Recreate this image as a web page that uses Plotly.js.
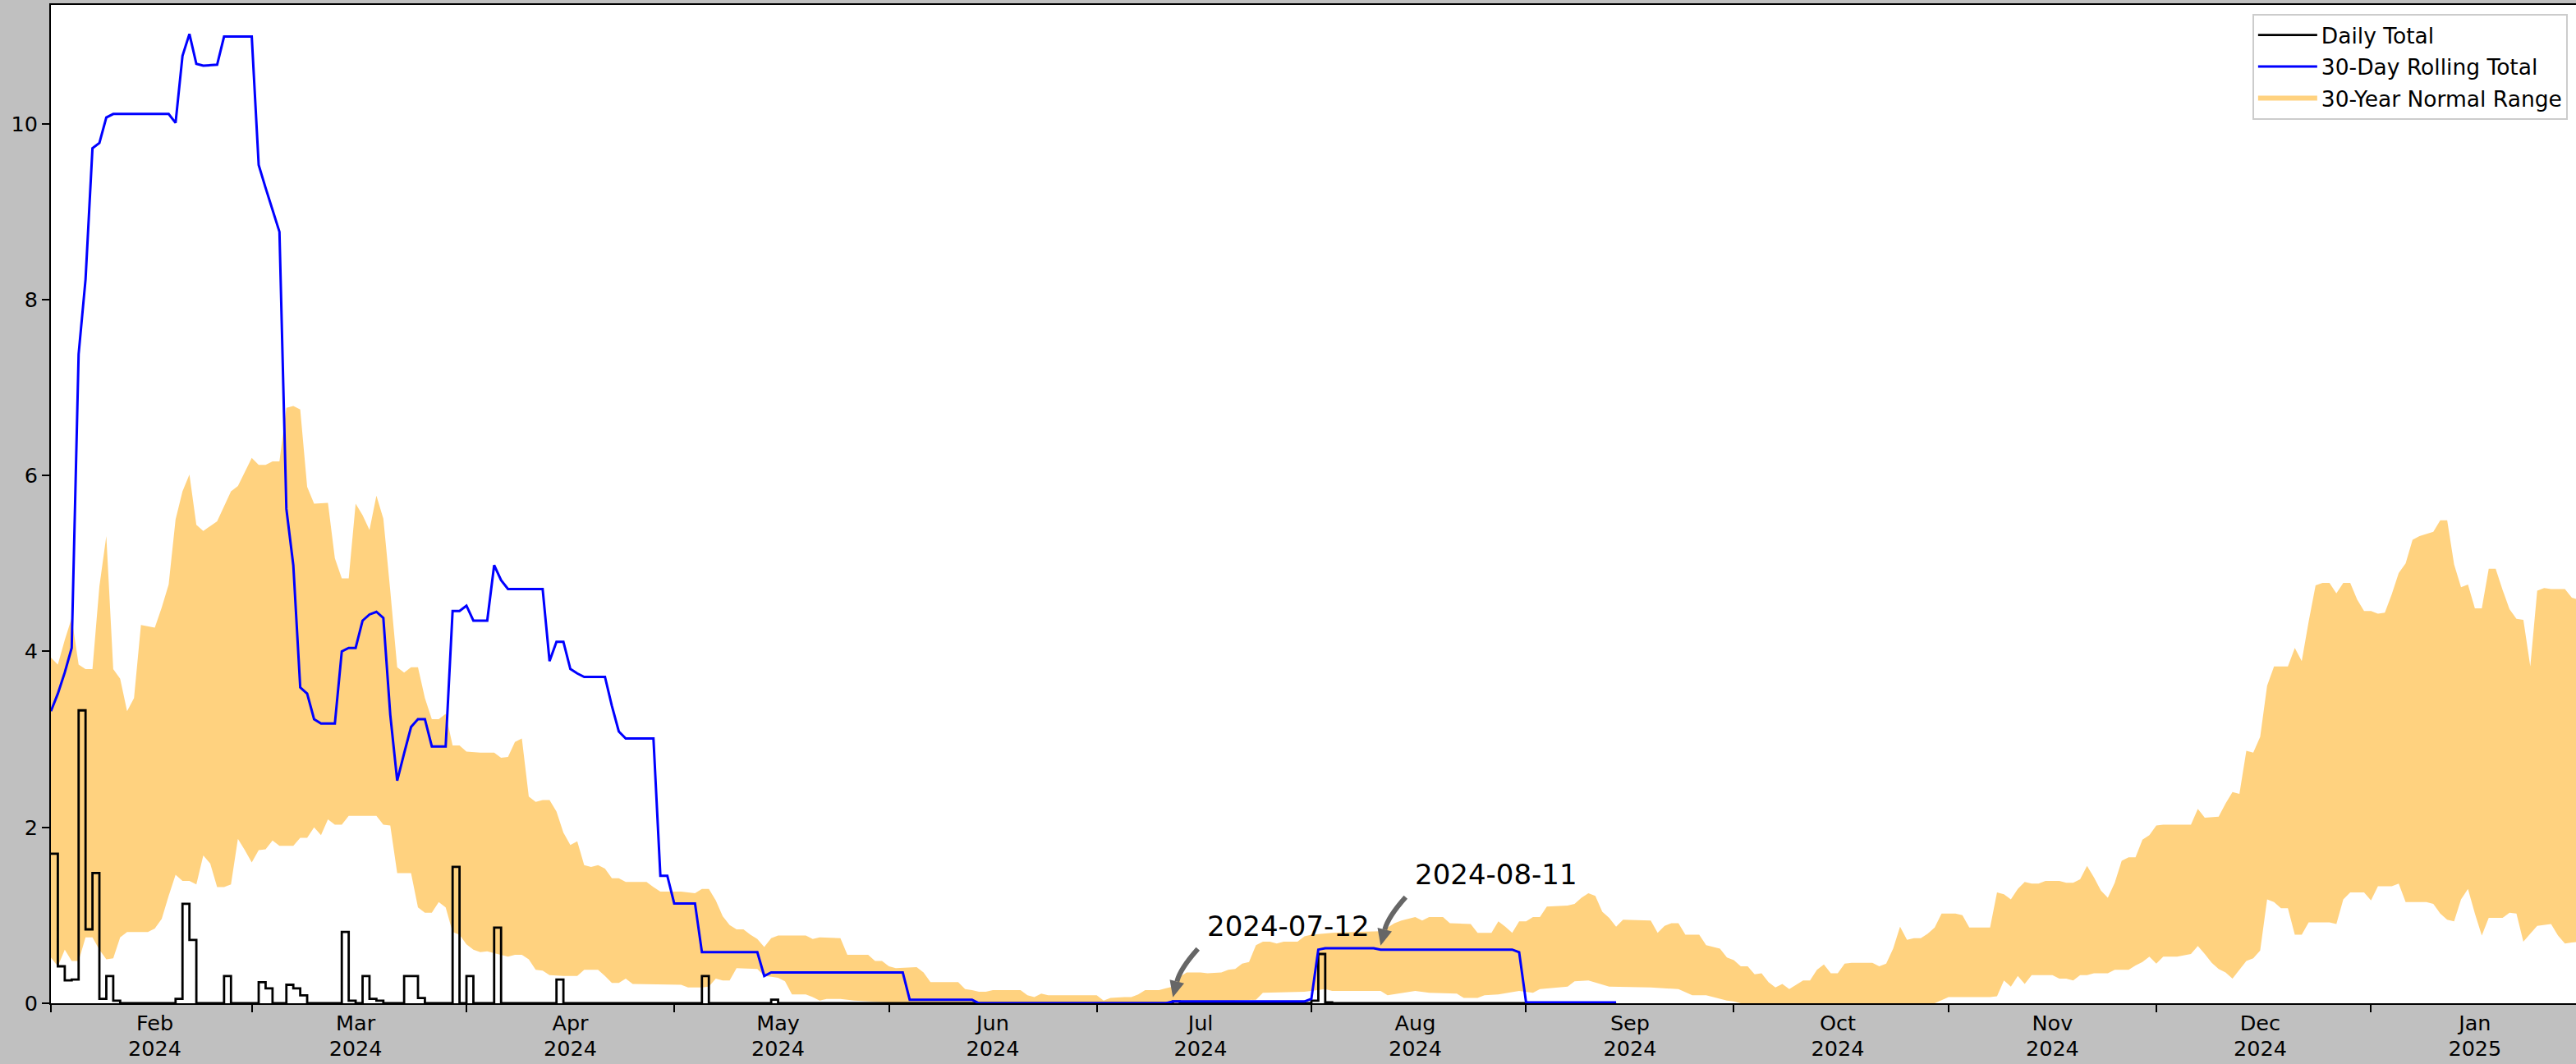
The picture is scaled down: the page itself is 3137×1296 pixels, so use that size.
<!DOCTYPE html>
<html>
<head>
<meta charset="utf-8">
<script src="https://cdn.plot.ly/plotly-3.0.1.min.js"></script>
<style>
html,body{margin:0;padding:0;background:#c0c0c0;}
#chart{width:3137px;height:1296px;}
</style>
</head>
<body>
<div id="chart"></div>
<script>
// ---------- Daily total (step line, value holds until next date) ----------
const dailyDates = ['2024-02-01','2024-02-02','2024-02-03','2024-02-04','2024-02-05','2024-02-06','2024-02-07','2024-02-08','2024-02-09','2024-02-10','2024-02-11',
  '2024-02-19','2024-02-20','2024-02-21','2024-02-22','2024-02-26','2024-02-27',
  '2024-03-02','2024-03-03','2024-03-04','2024-03-06','2024-03-07','2024-03-08','2024-03-09','2024-03-14','2024-03-15','2024-03-16','2024-03-17','2024-03-18','2024-03-19','2024-03-20','2024-03-23','2024-03-24','2024-03-25','2024-03-26','2024-03-30','2024-03-31',
  '2024-04-01','2024-04-02','2024-04-05','2024-04-06','2024-04-14','2024-04-15',
  '2024-05-05','2024-05-06','2024-05-15','2024-05-16',
  '2024-07-12','2024-07-13',
  '2024-08-01','2024-08-02','2024-08-03','2024-08-04',
  '2024-09-14'];
const dailyVals = [1.70,0.42,0.26,0.27,3.33,0.84,1.48,0.05,0.31,0.03,0,
  0.05,1.13,0.72,0,0.31,0,
  0.24,0.17,0,0.21,0.17,0.09,0,0.81,0.03,0,0.31,0.05,0.03,0,0.31,0.31,0.06,0,1.55,0,
  0.31,0,0.86,0,0.27,0,
  0.31,0,0.04,0,
  0.02,0,
  0.03,0.56,0.01,0,
  0];

// ---------- 30-day rolling total ----------
const rollDates = ['2024-02-01','2024-02-02','2024-02-03','2024-02-04','2024-02-05','2024-02-06','2024-02-07','2024-02-08','2024-02-09','2024-02-10','2024-02-18','2024-02-19','2024-02-20','2024-02-21','2024-02-22','2024-02-23','2024-02-25','2024-02-26',
  '2024-03-01','2024-03-02','2024-03-03','2024-03-04','2024-03-05','2024-03-06','2024-03-07','2024-03-08','2024-03-09','2024-03-10','2024-03-11','2024-03-13','2024-03-14','2024-03-15','2024-03-16','2024-03-17','2024-03-18','2024-03-19','2024-03-20','2024-03-21','2024-03-22','2024-03-23','2024-03-24','2024-03-25','2024-03-26','2024-03-27','2024-03-29','2024-03-30','2024-03-31',
  '2024-04-01','2024-04-02','2024-04-04','2024-04-05','2024-04-06','2024-04-07','2024-04-12','2024-04-13','2024-04-14','2024-04-15','2024-04-16','2024-04-17','2024-04-18','2024-04-21','2024-04-22','2024-04-23','2024-04-24','2024-04-28','2024-04-29','2024-04-30',
  '2024-05-01','2024-05-04','2024-05-05','2024-05-13','2024-05-14','2024-05-15',
  '2024-06-03','2024-06-04','2024-06-13','2024-06-14',
  '2024-07-11','2024-07-12','2024-07-31',
  '2024-08-01','2024-08-02','2024-08-03','2024-08-10','2024-08-11','2024-08-30','2024-08-31',
  '2024-09-01','2024-09-14'];
const rollVals = [3.32,3.52,3.76,4.04,7.38,8.23,9.72,9.78,10.07,10.11,10.11,10.01,10.77,11.02,10.68,10.66,10.67,10.99,
  10.99,9.53,9.27,9.02,8.77,5.62,4.98,3.59,3.52,3.23,3.18,3.18,4.00,4.04,4.04,4.35,4.42,4.45,4.38,3.28,2.53,2.84,3.14,3.23,3.23,2.92,2.92,4.46,4.46,
  4.52,4.35,4.35,4.98,4.81,4.71,4.71,3.89,4.11,4.11,3.80,3.75,3.71,3.71,3.38,3.09,3.01,3.01,1.45,1.45,
  1.135,1.135,0.58,0.58,0.31,0.35,
  0.35,0.04,0.04,0,
  0,0.02,0.02,
  0.05,0.61,0.625,0.625,0.61,0.61,0.58,
  0.01,0.01];

// ---------- 30-year normal range: upper edge ----------
const normHighDates = [
  '2024-02-01','2024-02-02','2024-02-03','2024-02-04','2024-02-05','2024-02-06','2024-02-07','2024-02-08','2024-02-09','2024-02-10','2024-02-11','2024-02-12','2024-02-13','2024-02-14','2024-02-16','2024-02-17','2024-02-18','2024-02-19','2024-02-20','2024-02-21','2024-02-22','2024-02-23','2024-02-25','2024-02-26','2024-02-27','2024-02-28',
  '2024-03-01','2024-03-02','2024-03-03','2024-03-04','2024-03-05','2024-03-06','2024-03-07','2024-03-08','2024-03-09','2024-03-10','2024-03-12','2024-03-13','2024-03-14','2024-03-15','2024-03-16','2024-03-17','2024-03-18','2024-03-19','2024-03-20','2024-03-21','2024-03-22','2024-03-23','2024-03-24','2024-03-25','2024-03-26','2024-03-27','2024-03-28','2024-03-29','2024-03-30','2024-03-31',
  '2024-04-01','2024-04-03','2024-04-05','2024-04-06','2024-04-07','2024-04-08','2024-04-09','2024-04-10','2024-04-11','2024-04-12','2024-04-13','2024-04-14','2024-04-15','2024-04-16','2024-04-17','2024-04-18','2024-04-19','2024-04-20','2024-04-21','2024-04-22','2024-04-23','2024-04-24','2024-04-27','2024-04-28','2024-04-29',
  '2024-05-02','2024-05-04','2024-05-05','2024-05-06','2024-05-07','2024-05-08','2024-05-09','2024-05-10','2024-05-11','2024-05-12','2024-05-13','2024-05-14','2024-05-15','2024-05-16','2024-05-20','2024-05-21','2024-05-22','2024-05-25','2024-05-26','2024-05-29','2024-05-30','2024-05-31',
  '2024-06-01','2024-06-02','2024-06-05','2024-06-06','2024-06-07','2024-06-11','2024-06-12','2024-06-13','2024-06-14','2024-06-15','2024-06-16','2024-06-20','2024-06-21','2024-06-22','2024-06-23','2024-06-24',
  '2024-07-01','2024-07-02','2024-07-03','2024-07-05','2024-07-06','2024-07-07','2024-07-08','2024-07-10','2024-07-11','2024-07-12','2024-07-13','2024-07-14','2024-07-16','2024-07-17','2024-07-19','2024-07-20','2024-07-21','2024-07-22','2024-07-23','2024-07-24','2024-07-25','2024-07-26','2024-07-27','2024-07-28','2024-07-30','2024-07-31',
  '2024-08-01','2024-08-04','2024-08-07','2024-08-11','2024-08-12','2024-08-13','2024-08-14','2024-08-16','2024-08-17','2024-08-18','2024-08-20','2024-08-21','2024-08-24','2024-08-25','2024-08-27','2024-08-28','2024-08-29','2024-08-30','2024-08-31',
  '2024-09-01','2024-09-02','2024-09-03','2024-09-04','2024-09-07','2024-09-08','2024-09-09','2024-09-10','2024-09-11','2024-09-12','2024-09-13','2024-09-14','2024-09-15','2024-09-19','2024-09-20','2024-09-21','2024-09-22','2024-09-23','2024-09-24','2024-09-26','2024-09-27','2024-09-29','2024-09-30',
  '2024-10-01','2024-10-02','2024-10-03','2024-10-04','2024-10-05','2024-10-06','2024-10-07','2024-10-08','2024-10-09','2024-10-10','2024-10-11','2024-10-12','2024-10-13','2024-10-14','2024-10-15','2024-10-16','2024-10-17','2024-10-18','2024-10-21','2024-10-22','2024-10-23','2024-10-24','2024-10-25','2024-10-26','2024-10-27','2024-10-28','2024-10-29','2024-10-30','2024-10-31',
  '2024-11-02','2024-11-03','2024-11-04','2024-11-07','2024-11-08','2024-11-09','2024-11-10','2024-11-11','2024-11-12','2024-11-13','2024-11-14','2024-11-15','2024-11-17','2024-11-18','2024-11-19','2024-11-20','2024-11-21','2024-11-22','2024-11-23','2024-11-24','2024-11-25','2024-11-26','2024-11-27','2024-11-28','2024-11-29','2024-11-30',
  '2024-12-01','2024-12-02','2024-12-06','2024-12-07','2024-12-08','2024-12-10','2024-12-11','2024-12-12','2024-12-13','2024-12-14','2024-12-15','2024-12-16','2024-12-17','2024-12-18','2024-12-20','2024-12-21','2024-12-22','2024-12-23','2024-12-24','2024-12-25','2024-12-26','2024-12-27','2024-12-28','2024-12-29','2024-12-30','2024-12-31',
  '2025-01-01','2025-01-02','2025-01-03','2025-01-04','2025-01-05','2025-01-06','2025-01-07','2025-01-08','2025-01-10','2025-01-11','2025-01-12','2025-01-13','2025-01-14','2025-01-15','2025-01-16','2025-01-17','2025-01-18','2025-01-19','2025-01-20','2025-01-21','2025-01-22','2025-01-23','2025-01-24','2025-01-25','2025-01-26','2025-01-27','2025-01-29','2025-01-30','2025-01-31'];
const normHighVals = [
  3.93,3.85,4.13,4.38,3.85,3.80,3.80,4.74,5.31,3.80,3.69,3.32,3.47,4.30,4.27,4.50,4.76,5.50,5.82,6.01,5.44,5.37,5.48,5.65,5.82,5.88,
  6.20,6.12,6.12,6.16,6.16,6.77,6.79,6.75,5.87,5.68,5.69,5.06,4.83,4.83,5.68,5.55,5.38,5.77,5.51,4.69,3.82,3.76,3.82,3.82,3.47,3.23,3.23,3.29,2.93,2.93,
  2.86,2.85,2.85,2.79,2.80,2.97,3.01,2.35,2.29,2.31,2.31,2.18,1.94,1.80,1.84,1.57,1.55,1.57,1.53,1.42,1.42,1.38,1.38,1.32,1.27,
  1.27,1.25,1.30,1.30,1.17,0.99,0.89,0.84,0.84,0.78,0.73,0.64,0.74,0.77,0.77,0.73,0.75,0.74,0.55,0.55,0.48,0.48,
  0.42,0.40,0.41,0.35,0.24,0.24,0.16,0.15,0.13,0.13,0.15,0.15,0.09,0.07,0.11,0.09,
  0.09,0.03,0.06,0.07,0.07,0.10,0.15,0.15,0.17,0.19,0.30,0.35,0.35,0.34,0.35,0.38,0.39,0.45,0.47,0.66,0.70,0.70,0.68,0.70,0.70,0.76,
  0.78,0.80,0.81,0.82,0.86,0.91,0.94,0.98,0.94,0.98,0.98,0.91,0.90,0.80,0.80,0.93,0.87,0.80,0.93,
  0.93,0.98,0.98,1.10,1.11,1.13,1.20,1.25,1.22,1.04,0.97,0.87,0.95,0.94,0.80,0.88,0.91,0.91,0.78,0.78,0.66,0.62,0.52,
  0.49,0.42,0.42,0.33,0.34,0.24,0.18,0.22,0.16,0.21,0.26,0.26,0.38,0.44,0.34,0.34,0.45,0.46,0.46,0.42,0.45,0.62,0.87,0.72,0.74,0.74,0.79,0.86,1.02,
  1.02,1.00,0.86,0.86,1.26,1.24,1.18,1.30,1.38,1.36,1.36,1.39,1.39,1.37,1.37,1.41,1.56,1.43,1.28,1.20,1.37,1.62,1.66,1.66,1.86,1.91,
  2.02,2.03,2.03,2.21,2.11,2.12,2.27,2.40,2.38,2.87,2.85,3.03,3.61,3.83,3.83,4.04,3.89,4.34,4.75,4.78,4.78,4.66,4.78,4.78,4.59,4.46,
  4.46,4.43,4.44,4.65,4.89,5.00,5.27,5.31,5.36,5.49,5.49,4.99,4.73,4.76,4.49,4.49,4.94,4.94,4.70,4.48,4.37,4.36,3.83,4.69,4.72,4.71,4.71,4.61,4.59];

// ---------- 30-year normal range: lower edge ----------
const normLowDates = [
  '2024-02-01','2024-02-02','2024-02-03','2024-02-04','2024-02-05','2024-02-06','2024-02-07','2024-02-08','2024-02-09','2024-02-10','2024-02-11','2024-02-12','2024-02-15','2024-02-16','2024-02-17','2024-02-18','2024-02-19','2024-02-20','2024-02-21','2024-02-22','2024-02-23','2024-02-24','2024-02-25','2024-02-26','2024-02-27','2024-02-28','2024-02-29',
  '2024-03-01','2024-03-02','2024-03-03','2024-03-04','2024-03-05','2024-03-07','2024-03-08','2024-03-09','2024-03-10','2024-03-11','2024-03-12','2024-03-13','2024-03-14','2024-03-15','2024-03-19','2024-03-20','2024-03-21','2024-03-22','2024-03-24','2024-03-25','2024-03-26','2024-03-27','2024-03-28','2024-03-29','2024-03-30','2024-03-31',
  '2024-04-01','2024-04-02','2024-04-03','2024-04-04','2024-04-05','2024-04-07','2024-04-08','2024-04-09','2024-04-10','2024-04-11','2024-04-12','2024-04-13','2024-04-15','2024-04-17','2024-04-18','2024-04-20','2024-04-21','2024-04-22','2024-04-23','2024-04-24','2024-04-25',
  '2024-05-02','2024-05-03','2024-05-05','2024-05-06','2024-05-07','2024-05-08','2024-05-09','2024-05-10','2024-05-13','2024-05-14','2024-05-15','2024-05-16','2024-05-17','2024-05-18','2024-05-20','2024-05-21','2024-05-22','2024-05-23','2024-05-25','2024-05-27',
  '2024-06-01','2024-06-03',
  '2024-07-20','2024-07-21','2024-07-24','2024-07-25','2024-07-31',
  '2024-08-03','2024-08-04','2024-08-11','2024-08-12','2024-08-16','2024-08-18','2024-08-22','2024-08-23','2024-08-25','2024-08-26','2024-08-28','2024-08-31',
  '2024-09-02','2024-09-03','2024-09-07','2024-09-08','2024-09-10','2024-09-13','2024-09-19','2024-09-23','2024-09-25','2024-09-27','2024-09-30',
  '2024-10-01','2024-10-02','2024-10-30',
  '2024-11-01','2024-11-07','2024-11-08','2024-11-09','2024-11-10','2024-11-11','2024-11-12','2024-11-13','2024-11-16','2024-11-17','2024-11-18','2024-11-19','2024-11-20','2024-11-21','2024-11-22','2024-11-24','2024-11-25','2024-11-27','2024-11-28','2024-11-29','2024-11-30',
  '2024-12-01','2024-12-02','2024-12-04','2024-12-06','2024-12-07','2024-12-08','2024-12-09','2024-12-10','2024-12-11','2024-12-12','2024-12-13','2024-12-14','2024-12-15','2024-12-16','2024-12-17','2024-12-18','2024-12-19','2024-12-20','2024-12-21','2024-12-22','2024-12-23','2024-12-26','2024-12-27','2024-12-28','2024-12-29','2024-12-31',
  '2025-01-01','2025-01-02','2025-01-04','2025-01-05','2025-01-06','2025-01-09','2025-01-10','2025-01-11','2025-01-12','2025-01-13','2025-01-14','2025-01-15','2025-01-16','2025-01-17','2025-01-18','2025-01-20','2025-01-21','2025-01-22','2025-01-23','2025-01-24','2025-01-25','2025-01-27','2025-01-28','2025-01-29','2025-01-30','2025-01-31'];
const normLowVals = [
  0.52,0.42,0.61,0.48,0.48,0.75,0.75,0.61,0.50,0.51,0.75,0.81,0.81,0.85,0.96,1.22,1.46,1.39,1.39,1.35,1.68,1.59,1.32,1.32,1.35,1.87,1.74,
  1.60,1.74,1.75,1.85,1.79,1.79,1.88,1.88,2.00,1.91,2.09,2.03,2.03,2.13,2.13,2.03,2.02,1.48,1.48,1.09,1.03,1.03,1.15,1.09,0.81,0.78,
  0.67,0.61,0.58,0.59,0.57,0.53,0.55,0.55,0.50,0.38,0.37,0.32,0.31,0.31,0.38,0.38,0.31,0.23,0.23,0.28,0.22,
  0.21,0.18,0.18,0.19,0.28,0.26,0.26,0.40,0.39,0.31,0.30,0.29,0.25,0.10,0.10,0.07,0.03,0.05,0.05,0.03,
  0.01,0.00,
  0.00,0.03,0.04,0.12,0.13,
  0.16,0.14,0.14,0.09,0.14,0.12,0.11,0.06,0.06,0.09,0.10,0.14,
  0.12,0.16,0.19,0.25,0.26,0.19,0.18,0.16,0.09,0.09,0.03,
  0.02,0.00,0.00,
  0.07,0.07,0.08,0.26,0.19,0.31,0.22,0.32,0.32,0.28,0.28,0.26,0.32,0.32,0.34,0.34,0.38,0.38,0.43,0.47,0.53,
  0.45,0.53,0.53,0.56,0.65,0.56,0.46,0.39,0.35,0.28,0.38,0.48,0.51,0.60,1.18,1.15,1.08,1.08,0.78,0.78,0.92,0.92,0.90,1.18,1.26,1.26,
  1.17,1.33,1.33,1.36,1.15,1.15,1.13,1.02,0.95,0.93,1.18,1.30,1.02,0.77,0.97,0.97,1.03,1.02,0.70,0.79,0.88,0.90,0.77,0.68,0.69,0.70];

// ---------- Annotations ----------
const annoDates = ['2024-07-12','2024-08-11'];
const annoVals  = [0.02, 0.61];
const annoTexts = ['2024-07-12','2024-08-11'];

// ---------- Axis range / label anchors ----------
const xRange = ['2024-02-01','2025-01-30 14:24'];
const monthStart = '2024-02-01';
const labelDay = '2024-02-16';

// ---------- Build traces ----------
const bandX = normHighDates.concat(normLowDates.slice().reverse());
const bandY = normHighVals.concat(normLowVals.slice().reverse());

const FONT = 'DejaVu Sans, Liberation Sans, sans-serif';

const traces = [
  {type:'scatter', x:bandX, y:bandY, mode:'none', fill:'toself',
   fillcolor:'rgba(255,165,0,0.5)', name:'30-Year Normal Range',
   legendrank:3, legendgroup:'c', hoverinfo:'skip', xaxis:'x', yaxis:'y'},
  {type:'scatter', x:dailyDates, y:dailyVals, mode:'lines',
   line:{shape:'hv', color:'#000000', width:2.8}, name:'Daily Total',
   legendrank:1, legendgroup:'a', xaxis:'x2', yaxis:'y'},
  {type:'scatter', x:rollDates, y:rollVals, mode:'lines',
   line:{color:'#0000ff', width:3}, name:'30-Day Rolling Total',
   legendrank:2, legendgroup:'b', xaxis:'x2', yaxis:'y'}
];

const shaftPath = 'M30.5,64 Q9,40 5,24.4';
const headPath  = 'M0,5 L13.7,22.2 L-3.8,26.6 Z';

const shapes = [];
annoDates.forEach((d, i) => {
  shapes.push({type:'path', xref:'x', yref:'y', xsizemode:'pixel', ysizemode:'pixel',
    xanchor:d, yanchor:annoVals[i], path:shaftPath,
    line:{color:'#666666', width:6}, fillcolor:'rgba(0,0,0,0)'});
  shapes.push({type:'path', xref:'x', yref:'y', xsizemode:'pixel', ysizemode:'pixel',
    xanchor:d, yanchor:annoVals[i], path:headPath,
    line:{color:'#666666', width:0}, fillcolor:'#666666'});
});

const annotations = annoDates.map((d, i) => ({
  x:d, y:annoVals[i], xref:'x', yref:'y', text:annoTexts[i], showarrow:false,
  xanchor:'left', yanchor:'middle', xshift:40, yshift:92,
  font:{family:FONT, size:34, color:'#000000'}
}));

const tickFont = {family:FONT, size:25.5, color:'#000000'};

const layout = {
  width:3137, height:1296,
  paper_bgcolor:'#c0c0c0', plot_bgcolor:'#ffffff',
  margin:{l:62, r:0, t:6, b:74, pad:0},
  font:{family:FONT, size:25.5, color:'#000000'},
  showlegend:true,
  legend:{x:0.9967, xanchor:'right', y:0.991, yanchor:'top',
    bgcolor:'rgba(255,255,255,0.8)', bordercolor:'#cccccc', borderwidth:2,
    font:{family:FONT, size:26.5, color:'#000000'},
    traceorder:'grouped', tracegroupgap:1, itemwidth:72},
  xaxis:{type:'date', range:xRange,
    showgrid:false, zeroline:false, showline:true, linecolor:'#000000', linewidth:2, mirror:true,
    ticks:'', dtick:'M1', tick0:labelDay, tickformat:'%b',
    tickfont:tickFont,
    minor:{dtick:'M1', tick0:monthStart, ticks:'outside', ticklen:9, tickwidth:2, tickcolor:'#000000', showgrid:false}},
  xaxis2:{type:'date', range:xRange, overlaying:'x', anchor:'y', side:'bottom',
    showgrid:false, zeroline:false, showline:false,
    ticks:'', dtick:'M1', tick0:labelDay, tickformat:'%Y',
    ticklabelstandoff:37, tickfont:tickFont},
  yaxis:{range:[0, 11.35], dtick:2, tick0:0,
    showgrid:false, zeroline:false, showline:true, linecolor:'#000000', linewidth:2,
    ticks:'outside', ticklen:9, tickwidth:2, tickcolor:'#000000',
    tickfont:tickFont},
  shapes:shapes,
  annotations:annotations
};

Plotly.newPlot('chart', traces, layout, {displayModeBar:false, responsive:false});
</script>
</body>
</html>
